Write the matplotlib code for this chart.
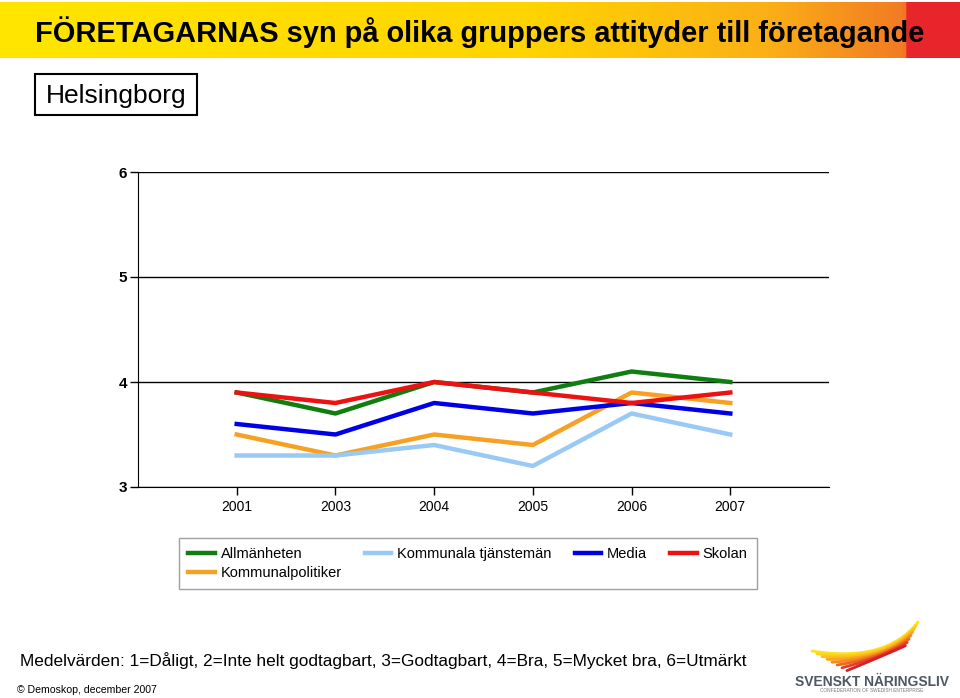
import numpy as np
import matplotlib.pyplot as plt
from matplotlib.patches import Rectangle
from matplotlib.colors import LinearSegmentedColormap

plt.rcParams['font.family'] = ['Liberation Sans', 'DejaVu Sans']

# data
years = ['2001', '2003', '2004', '2005', '2006', '2007']
allmanheten = [3.9, 3.7, 4.0, 3.9, 4.1, 4.0]
kommunalpolitiker = [3.5, 3.3, 3.5, 3.4, 3.9, 3.8]
kommunala_tjansteman = [3.3, 3.3, 3.4, 3.2, 3.7, 3.5]
media = [3.6, 3.5, 3.8, 3.7, 3.8, 3.7]
skolan = [3.9, 3.8, 4.0, 3.9, 3.8, 3.9]

fig = plt.figure(figsize=(9.6, 6.98), dpi=100)

# title band with gradient
band = fig.add_axes([0.0, 1 - 58 / 698, 1.0, 56 / 698])
cmap = LinearSegmentedColormap.from_list(
    'band', [(0, '#ffe600'), (0.55, '#ffd400'), (0.8, '#fbb016'),
             (0.945, '#f27a24'), (0.947, '#e8252b'), (1, '#e8252b')])
band.imshow(np.linspace(0, 1, 500)[None, :], cmap=cmap, aspect='auto',
            extent=[0, 1, 0, 1])
band.set_xlim(0, 1)
band.set_ylim(0, 1)
band.axis('off')
fig.text(0.036, 1 - 32 / 698, 'FÖRETAGARNAS syn på olika gruppers attityder till företagande',
         fontsize=20.9, fontweight='bold', va='center', ha='left')

# Helsingborg box
fig.patches.append(Rectangle((35 / 960, 1 - 115 / 698), 162 / 960, 41 / 698,
                             transform=fig.transFigure, fill=False,
                             edgecolor='black', linewidth=1.5))
fig.text(116 / 960, 1 - 96 / 698, 'Helsingborg', fontsize=19,
         ha='center', va='center')

# chart
ax = fig.add_axes([138 / 960, 1 - 487 / 698, 691 / 960, 315 / 698])
x = np.arange(1, len(years) + 1)
l_allm, = ax.plot(x, allmanheten, color='#0f7d0f', lw=3.2, label='Allmänheten')
l_kpol, = ax.plot(x, kommunalpolitiker, color='#f7a124', lw=3.2, label='Kommunalpolitiker')
l_ktj, = ax.plot(x, kommunala_tjansteman, color='#99c9f5', lw=3.2, label='Kommunala tjänstemän')
l_med, = ax.plot(x, media, color='#0000e6', lw=3.2, label='Media')
l_sko, = ax.plot(x, skolan, color='#ee1111', lw=3.2, label='Skolan')

ax.set_xlim(0, len(years) + 1)
ax.set_ylim(3, 6)
ax.set_xticks(x)
ax.set_xticklabels(years, fontsize=10)
ax.set_yticks([3, 4, 5, 6])
ax.set_yticklabels(['3', '4', '5', '6'], fontsize=11, fontweight='bold')
ax.yaxis.grid(True, color='black', linewidth=1)
ax.set_axisbelow(True)
ax.spines['top'].set_visible(False)
ax.spines['right'].set_visible(False)
ax.tick_params(axis='both', direction='out', length=6, width=1)
ax.tick_params(axis='x', pad=3.5)
ax.tick_params(axis='y', pad=2)

leg = ax.legend(handles=[l_allm, l_kpol, l_ktj, l_med, l_sko], ncol=4,
                loc='upper left', bbox_to_anchor=(179 / 960, 1 - 538 / 698),
                bbox_transform=fig.transFigure, borderaxespad=0,
                fontsize=10.5, frameon=True,
                fancybox=False, edgecolor='#888888', handlelength=1.8,
                handletextpad=0.4, columnspacing=1.6, labelspacing=0.3,
                borderpad=0.65)
leg.get_frame().set_linewidth(1)

# footnotes
fig.text(20 / 960, 1 - 661 / 698,
         'Medelvärden: 1=Dåligt, 2=Inte helt godtagbart, 3=Godtagbart, 4=Bra, 5=Mycket bra, 6=Utmärkt',
         fontsize=12.4, va='center', ha='left')
fig.text(17 / 960, 1 - 690 / 698, '© Demoskop, december 2007', fontsize=7.6,
         va='center', ha='left')

# logo (Svenskt Näringsliv)
logo = fig.add_axes([790 / 960, 0.0, 170 / 960, 88 / 698])
logo.set_xlim(790, 960)
logo.set_ylim(698, 610)
logo.axis('off')
wing_cols = ['#fde21a', '#fdd21b', '#fcc01d', '#faa71e', '#f6891f', '#f06522', '#e43e26', '#d5202b']
t = np.linspace(0, 1, 40)[:, None]
for i, c in enumerate(wing_cols):
    p0 = np.array([812 + i * 5, 651 + i * 2.8])
    p1 = np.array([886 - i * 0.5, 663 - i * 1.0])
    p2 = np.array([918 - i * 1.8, 622 + i * 3.4])
    pts = (1 - t) ** 2 * p0 + 2 * (1 - t) * t * p1 + t ** 2 * p2
    logo.plot(pts[:, 0], pts[:, 1], color=c, lw=2.0, solid_capstyle='round')
logo.text(872, 682, 'SVENSKT NÄRINGSLIV', fontsize=10, fontweight='bold',
          color='#4d5864', ha='center', va='center')
logo.text(872, 691, 'CONFEDERATION OF SWEDISH ENTERPRISE', fontsize=3.4,
          color='#777777', ha='center', va='center')

fig.savefig('out.png', dpi=100)
